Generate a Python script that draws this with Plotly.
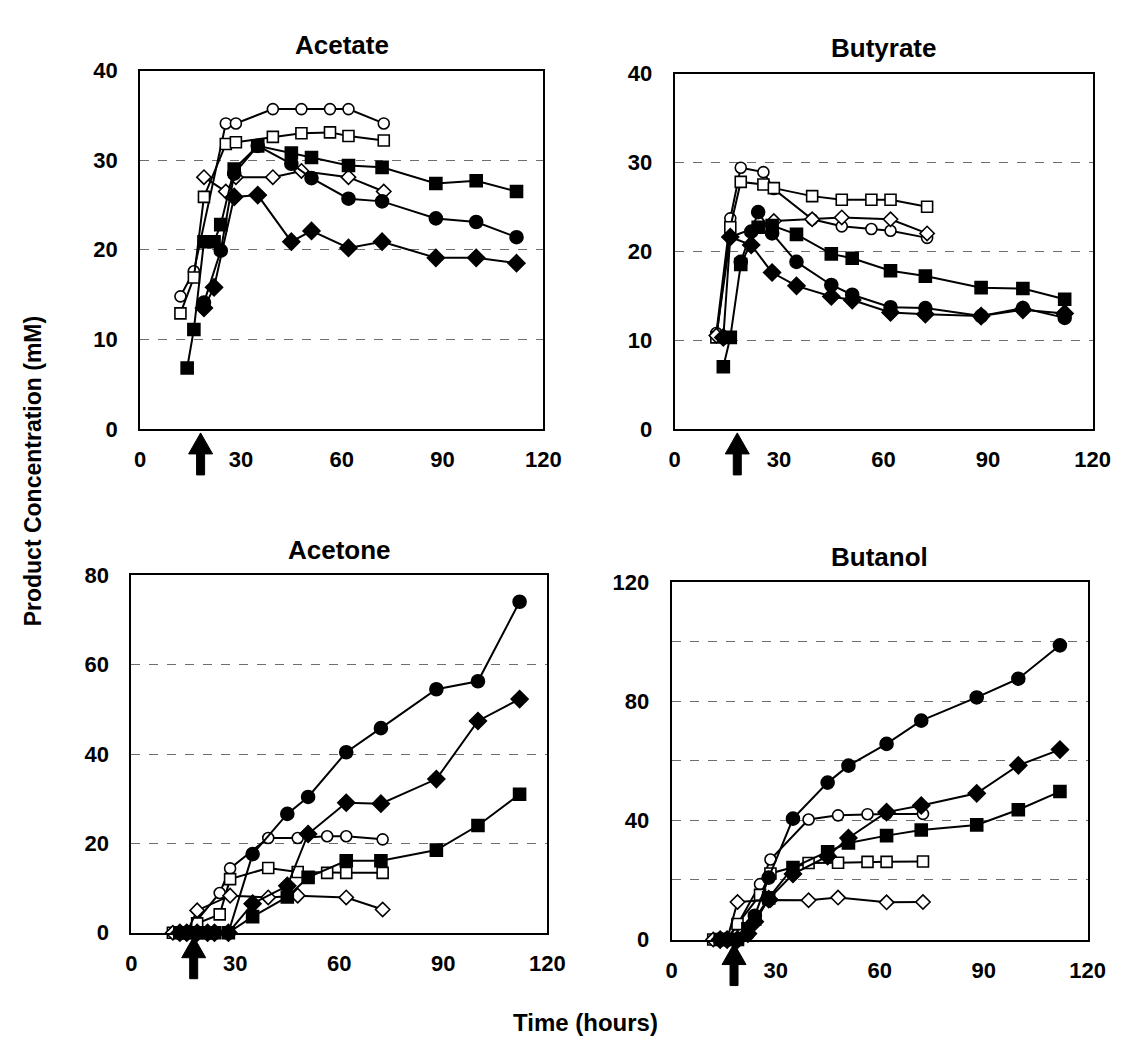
import plotly.graph_objects as go

# ---------------- data ----------------
T_F = [14, 16, 19, 22, 24, 28, 35, 45, 51, 62, 72, 88, 100, 112]   # filled-symbol runs (h)
T_O = [12, 16, 19, 25.5, 28.5, 39.5, 48, 56.5, 62, 72.5]            # open-symbol runs (h)

acetate_fs = [6.8, 11.1, 20.9, 20.9, 22.8, 29.0, 31.6, 30.8, 30.3, 29.4, 29.2, 27.4, 27.7, 26.5]
acetate_fc = [None, None, 14.1, None, 19.9, 28.5, 31.6, 29.6, 28.0, 25.7, 25.4, 23.5, 23.1, 21.4]
acetate_fd = [None, None, 13.5, 15.8, None, 25.9, 26.1, 20.9, 22.1, 20.2, 20.9, 19.1, 19.1, 18.5]
acetate_oc = [14.8, 17.6, None, 34.1, 34.1, 35.7, 35.7, 35.7, 35.7, 34.1]
acetate_os = [12.9, 16.9, 25.9, 31.8, 32.0, 32.6, 33.0, 33.1, 32.7, 32.2]
acetate_od = [None, None, 28.1, 26.5, 28.1, 28.1, 28.8, None, 28.1, 26.5]

butyrate_fs = [7.0, 10.3, 18.5, None, 22.7, 22.9, 21.9, 19.7, 19.2, 17.8, 17.2, 15.9, 15.8, 14.6]
butyrate_fc = [None, None, 18.8, 22.2, 24.4, 22.0, 18.8, 16.2, 15.1, 13.7, 13.6, 12.7, 13.6, 12.5]
butyrate_fd = [10.3, 21.6, None, 20.7, None, 17.6, 16.1, 14.9, 14.5, 13.1, 12.9, 12.7, 13.4, 13.0]
butyrate_oc = [10.8, 23.7, 29.4, 28.9, 27.0, 23.6, 22.8, 22.5, 22.3, 21.5]
butyrate_os = [10.3, 22.7, 27.8, 27.5, 27.1, 26.2, 25.8, 25.8, 25.8, 25.0]
butyrate_od = [10.5, 21.6, None, None, 23.4, 23.6, 23.8, None, 23.6, 22.0]

acetone_fs = [0, 0, 0, 0, 0, 0, 3.6, 8.0, 12.4, 16.1, 16.1, 18.5, 24.0, 31.0]
acetone_fc = [0, 0, 0, 0, 0, 0, 17.6, 26.6, 30.4, 40.4, 45.8, 54.5, 56.3, 74.1]
acetone_fd = [0, 0, 0, 0, 0, 0, 6.5, 10.5, 22.1, 29.1, 28.9, 34.4, 47.4, 52.3]
acetone_oc = [0, 0, None, 8.9, 14.4, 21.2, 21.2, 21.6, 21.6, 20.9]
acetone_os = [0, 0, 2.1, 4.1, 12.0, 14.5, 13.6, 13.4, 13.4, 13.4]
acetone_od = [0, 0, 5.0, None, 8.3, 7.9, 8.3, None, 7.9, 5.2]

butanol_fs = [0, 0, 0, 3.6, 6.9, 14.0, 24.2, 29.5, 32.4, 34.9, 36.8, 38.5, 43.6, 49.7]
butanol_fc = [0, 0, 0, 2.0, 8.0, 20.8, 40.6, 52.7, 58.4, 65.7, 73.5, 81.3, 87.6, 98.8]
butanol_fd = [0, 0, 0, 2.0, 6.0, 13.6, 22.0, 28.0, 34.1, 42.8, 45.0, 49.1, 58.5, 63.8]
butanol_oc = [0, 0, 5.0, 18.6, 26.9, 40.3, 41.7, 42.1, 42.2, 42.2]
butanol_os = [0, 0, 5.2, 15.0, 22.2, 25.7, 25.8, 26.1, 26.1, 26.2]
butanol_od = [0, 0, 12.6, None, 13.3, 13.2, 14.1, None, 12.5, 12.6]

ADDITION_TIME = 18  # arrow marker (h)

panels = ["Acetate", "Butyrate", "Acetone", "Butanol"]
panel_series = {
    "Acetate": [acetate_oc, acetate_os, acetate_od, acetate_fs, acetate_fc, acetate_fd],
    "Butyrate": [butyrate_oc, butyrate_os, butyrate_od, butyrate_fs, butyrate_fc, butyrate_fd],
    "Acetone": [acetone_oc, acetone_os, acetone_od, acetone_fs, acetone_fc, acetone_fd],
    "Butanol": [butanol_oc, butanol_os, butanol_od, butanol_fs, butanol_fc, butanol_fd],
}
series_names = ["open circle", "open square", "open diamond",
                "filled square", "filled circle", "filled diamond"]
y_max = {"Acetate": 40, "Butyrate": 40, "Acetone": 80, "Butanol": 120}
y_dtick = {"Acetate": 10, "Butyrate": 10, "Acetone": 20, "Butanol": 40}
x_ticks = [0, 30, 60, 90, 120]

# ---------------- styles / geometry ----------------
W, H = 1136, 1058
box = {  # left, right, top, bottom in px
    "Acetate": (137, 549, 60, 427),
    "Butyrate": (683, 1110, 63, 427),
    "Acetone": (128, 553, 577, 943),
    "Butanol": (680, 1105, 584, 950),
}
styles = {
    "open circle": dict(symbol="circle", color="white", size=11),
    "open square": dict(symbol="square", color="white", size=11),
    "open diamond": dict(symbol="diamond", color="white", size=11),
    "filled square": dict(symbol="square", color="black", size=12),
    "filled circle": dict(symbol="circle", color="black", size=13),
    "filled diamond": dict(symbol="diamond", color="black", size=13),
}

FONT = "Liberation Sans, Arial, sans-serif"
NARROW = "Liberation Sans Narrow, Arial Narrow, Liberation Sans, sans-serif"

fig = go.Figure()
layout = dict(width=W, height=H, margin=dict(l=0, r=0, t=0, b=0),
              paper_bgcolor="white", plot_bgcolor="white", showlegend=False,
              font=dict(family=FONT, color="black"))
shapes, annotations = [], []

for i, p in enumerate(panels):
    n = "" if i == 0 else str(i + 1)
    l, r, t, b = box[p]
    xd = [l / W, r / W]
    yd = [1 - b / H, 1 - t / H]
    for name, vals in zip(series_names, panel_series[p]):
        times = T_O if name.startswith("open") else T_F
        st = styles[name]
        fig.add_trace(go.Scatter(
            x=times, y=vals, mode="lines+markers", name=name, connectgaps=True,
            line=dict(color="black", width=2),
            marker=dict(symbol=st["symbol"], size=st["size"], color=st["color"],
                        line=dict(color="black", width=1.6)),
            xaxis="x" + n, yaxis="y" + n, cliponaxis=False))
    layout["xaxis" + n] = dict(
        domain=xd, anchor="y" + n, range=[0, 120], tickvals=x_ticks,
        showgrid=False, zeroline=False, showline=True, mirror=True,
        linecolor="black", linewidth=2, ticks="",
        tickfont=dict(family=NARROW, size=22, weight="bold"),
        ticklabelstandoff=10)
    ydict = dict(
        domain=yd, anchor="x" + n, range=[0, y_max[p]], dtick=y_dtick[p], tick0=0,
        showgrid=True, gridcolor="#6e6e6e", gridwidth=1, griddash="dash",
        zeroline=False, showline=True, mirror=True, linecolor="black", linewidth=2,
        ticks="", tickfont=dict(family=FONT, size=22, weight="bold"),
        ticklabelstandoff=16)
    if p == "Butanol":
        ydict["minor"] = dict(dtick=20, tick0=0, showgrid=True, gridcolor="#6e6e6e",
                              gridwidth=1, griddash="dash", ticks="")
    layout["yaxis" + n] = ydict
    # subplot title
    annotations.append(dict(text="<b>%s</b>" % p, x=(l + r) / 2 / W, y=1 - (t - 26) / H,
                            xref="paper", yref="paper", showarrow=False,
                            font=dict(size=26, family=FONT), xanchor="center",
                            yanchor="middle"))
    # arrow marking addition time
    shapes.append(dict(
        type="path", xref="x" + n, yref="paper", xsizemode="pixel", ysizemode="pixel",
        xanchor=ADDITION_TIME, yanchor=yd[0],
        path="M 0 -4 L 12 -25 L 4 -25 L 4 -46 L -4 -46 L -4 -25 L -12 -25 Z",
        fillcolor="black", line=dict(color="black", width=1)))

annotations.append(dict(text="<b>Product Concentration (mM)</b>", x=27 / W, y=1 - 470 / H,
                        xref="paper", yref="paper", showarrow=False, textangle=-90,
                        font=dict(size=23, family=FONT), xanchor="center", yanchor="middle"))
annotations.append(dict(text="<b>Time (hours)</b>", x=592 / W, y=1 - 1035 / H,
                        xref="paper", yref="paper", showarrow=False,
                        font=dict(size=24, family=FONT), xanchor="center", yanchor="middle"))
layout["shapes"] = shapes
layout["annotations"] = annotations
fig.update_layout(**layout)
fig.write_html("out.html")
